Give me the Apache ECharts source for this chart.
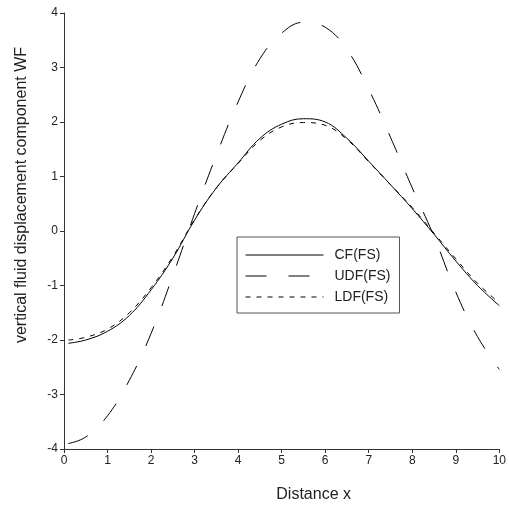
<!DOCTYPE html>
<html lang="en">
<head>
  <meta charset="UTF-8">
  <title>Vertical fluid displacement</title>
  <style>
    body{
      margin: 0;
    }
    .chart{
      width: 509px;
      height: 508px;
      background: white;
    }
  </style>
</head>
<body>
<div class="chart"></div>
<script src="https://cdn.jsdelivr.net/npm/echarts@6/dist/echarts.min.js"></script>
<script>
  // distance x
  const xs = [0.1, 0.5, 1, 1.5, 2, 2.5, 3, 3.5, 4, 4.5, 5, 5.5, 6, 6.5, 7, 7.5, 8, 8.5, 9, 9.5, 10];
  // values
  const cf  = [-2.06, -2.00, -1.84, -1.55, -1.08, -0.50, 0.20, 0.79, 1.25, 1.70, 1.96, 2.06, 2.00, 1.70, 1.28, 0.85, 0.41, -0.06, -0.55, -1.00, -1.37];
  const udf = [-3.90, -3.78, -3.39, -2.74, -1.88, -0.82, 0.32, 1.39, 2.37, 3.16, 3.63, 3.83, 3.74, 3.33, 2.60, 1.72, 0.79, -0.10, -1.12, -1.94, -2.54];
  const ldf = [-2.00, -1.95, -1.80, -1.50, -1.04, -0.47, 0.21, 0.79, 1.24, 1.66, 1.91, 1.99, 1.94, 1.68, 1.27, 0.85, 0.43, -0.04, -0.51, -0.96, -1.32];
  const names = ['CF(FS)', 'UDF(FS)', 'LDF(FS)'];
  const dashes = ['solid', [21, 22], [5, 6]];

  const font = 'Liberation Sans, Arial, sans-serif';
  const ink = '#222';

  const pairs = (ys) => xs.map((x, i) => [x, ys[i]]);

  const container = document.querySelector('.chart');
  const instance = echarts.init(container);
  const option = {
    animation: false,
    grid: {
      left: 64,
      right: 7,
      top: 13,
      bottom: 56
    },
    legend: {
      orient: 'vertical',
      left: 237,
      top: 237,
      itemWidth: 78,
      itemHeight: 14,
      itemGap: 7,
      padding: [11, 9, 9, 8],
      borderColor: '#555',
      borderWidth: 1,
      itemStyle: { opacity: 0 },
      lineStyle: { width: 1 },
      textStyle: {
        fontFamily: font,
        fontSize: 14,
        color: ink,
        padding: [0, 0, 0, 6]
      },
      data: names
    },
    xAxis: {
      type: 'value',
      min: 0,
      max: 10,
      interval: 1,
      name: 'Distance x',
      nameLocation: 'middle',
      nameGap: 38,
      nameTextStyle: {
        fontFamily: font,
        fontSize: 16,
        color: ink,
        padding: [0, 0, 0, 64]
      },
      axisLine: { onZero: false, lineStyle: { color: '#333', width: 1 } },
      axisTick: { inside: false, length: 4, lineStyle: { color: '#333' } },
      axisLabel: { fontFamily: font, fontSize: 12, color: ink, margin: 6 },
      splitLine: { show: false }
    },
    yAxis: {
      type: 'value',
      min: -4,
      max: 4,
      interval: 1,
      name: 'vertical fluid displacement component WF',
      nameLocation: 'middle',
      nameGap: 34,
      nameTextStyle: {
        fontFamily: font,
        fontSize: 16,
        color: ink,
        padding: [0, 0, 0, 72]
      },
      axisLine: { show: true, onZero: false, lineStyle: { color: '#333', width: 1 } },
      axisTick: { show: true, inside: false, length: 4, lineStyle: { color: '#333' } },
      axisLabel: { fontFamily: font, fontSize: 12, color: ink, margin: 6 },
      splitLine: { show: false }
    },
    series: [cf, udf, ldf].map((ys, i) => ({
      name: names[i],
      type: 'line',
      smooth: 0.4,
      symbol: 'none',
      lineStyle: { color: '#000', width: 1, type: dashes[i] },
      itemStyle: { color: '#000' },
      data: pairs(ys)
    }))
  };
  instance.setOption(option);
</script>
</body>
</html>
